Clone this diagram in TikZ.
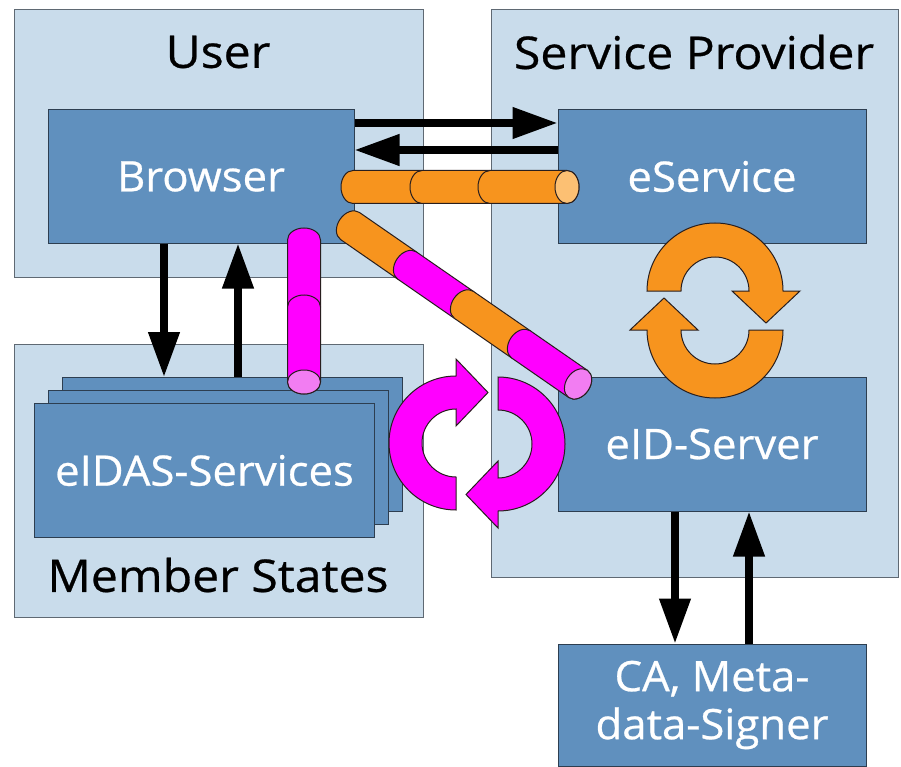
\documentclass[tikz,border=0pt]{standalone}
\usepackage{fontspec}
\setmainfont{Open Sans}
\newfontfamily\titlefont{Open Sans}[FakeStretch=1.07,FakeBold=0.6]
\newfontfamily\boxfont{Open Sans}[FakeStretch=1.04,FakeBold=0.6]
\usetikzlibrary{arrows.meta}
\definecolor{outerfill}{RGB}{201,220,235}
\definecolor{outerline}{RGB}{95,105,115}
\definecolor{innerfill}{RGB}{96,144,190}
\definecolor{innerline}{RGB}{45,62,80}
\definecolor{orng}{RGB}{247,148,30}
\definecolor{orngcap}{RGB}{252,192,115}
\definecolor{mgnt}{RGB}{255,0,255}
\definecolor{mgntcap}{RGB}{242,125,242}
\definecolor{cylline}{RGB}{40,30,30}
\newcommand\cylseg[3]{\filldraw[fill=#3, draw=cylline, line width=1pt] (#1,-16.5) arc[start angle=-90,end angle=-270,x radius=12pt,y radius=16.5pt] -- (#2,16.5) arc[start angle=90,end angle=-90,x radius=12pt,y radius=16.5pt] -- cycle;}
\newcommand\cylcap[2]{\filldraw[fill=#2, draw=cylline, line width=1pt] (#1,0) ellipse [x radius=12pt, y radius=16.5pt];}
\begin{document}
\begin{tikzpicture}[x=1pt,y=1pt,
  outerbox/.style={draw=outerline, fill=outerfill, line width=1pt, inner sep=0pt},
  innerbox/.style={draw=innerline, fill=innerfill, line width=1pt, text=white, font=\boxfont\fontsize{42}{48}\selectfont, align=center, inner sep=0pt},
  title/.style={font=\titlefont\fontsize{45}{50}\selectfont, text=black, inner sep=0pt},
  bigarrow/.style={line width=7.5pt, -{Triangle[length=45pt,width=30pt]}},
  circarrow/.style={draw=cylline, line width=1pt}]
\useasboundingbox[fill=white] (0,0) rectangle (901,-767);
% outer areas
\node[outerbox, minimum width=409pt, minimum height=267pt] (user) at (218.5,-143.5) {};
\node[outerbox, minimum width=407pt, minimum height=567pt] (sp) at (694.5,-293.5) {};
\node[outerbox, minimum width=409pt, minimum height=273pt] (ms) at (218.5,-480.5) {};
\node[title] (usertitle) at (218,-52) {User};
\node[title] (sptitle) at (694,-52) {Service Provider};
\node[title] (mstitle) at (218,-575) {Member States};
% inner boxes
\node[innerbox, minimum width=306pt, minimum height=133pt] (browser) at (201,-176.5) {Browser};
\node[innerbox, minimum width=308pt, minimum height=133pt] (eservice) at (712,-176.5) {eService};
\node[innerbox, minimum width=308pt, minimum height=134pt] (eid) at (712,-444) {eID-Server};
\node[innerbox, minimum width=308pt, minimum height=122pt] (ca) at (712,-705) {CA, Meta-\\data-Signer};
\node[innerbox, minimum width=340pt, minimum height=134pt] (eidasC) at (232,-444.5) {};
\node[innerbox, minimum width=340pt, minimum height=134pt] (eidasB) at (218,-457.5) {};
\node[innerbox, minimum width=340pt, minimum height=134pt] (eidasA) at (204.5,-470.5) {eIDAS-Services};
% arrows
\draw[bigarrow] ([yshift=53.5pt]browser.east) -- ([yshift=53.5pt]eservice.west);
\draw[bigarrow] ([yshift=26.5pt]eservice.west) -- ([yshift=26.5pt]browser.east);
\draw[bigarrow] ([xshift=-37pt]browser.south) -- ([xshift=-68pt]eidasC.north);
\draw[bigarrow] ([xshift=6pt]eidasC.north) -- ([xshift=37pt]browser.south);
\draw[bigarrow] ([xshift=-37pt]eid.south) -- ([xshift=-37pt]ca.north);
\draw[bigarrow] ([xshift=37pt]ca.north) -- ([xshift=37pt]eid.south);
% circular arrows
\filldraw[circarrow, fill=orng] (647,-291) arc[start angle=180,end angle=0,radius=68pt] -- (800,-291) -- (766,-323) -- (732,-291) -- (749,-291) arc[start angle=0,end angle=180,radius=34pt] -- cycle;
\filldraw[circarrow, fill=orng] (783,-330) arc[start angle=0,end angle=-180,radius=68pt] -- (630,-330) -- (664,-298) -- (698,-330) -- (681,-330) arc[start angle=180,end angle=360,radius=34pt] -- cycle;
\filldraw[circarrow, fill=mgnt] (456,-510) arc[start angle=-90,end angle=-270,radius=67pt] -- (456,-359) -- (488,-392.5) -- (456,-426) -- (456,-409) arc[start angle=90,end angle=270,radius=34pt] -- cycle;
\filldraw[circarrow, fill=mgnt] (498,-377) arc[start angle=90,end angle=-90,radius=67pt] -- (498,-528) -- (466,-494.5) -- (498,-461) -- (498,-478) arc[start angle=-90,end angle=90,radius=34pt] -- cycle;
% cylinders
\begin{scope}[shift={(353,-187)}]
\cylseg{0}{69}{orng}\cylseg{69}{137}{orng}\cylseg{137}{214}{orng}\cylcap{214}{orngcap}
\end{scope}
\begin{scope}[shift={(304,-240)}, rotate=-90]
\cylseg{0}{67}{mgnt}\cylseg{67}{142}{mgnt}\cylcap{142}{mgntcap}
\end{scope}
\begin{scope}[shift={(350,-226)}, rotate=-34.7]
\cylseg{0}{69.4}{orng}\cylseg{69.4}{138.7}{mgnt}\cylseg{138.7}{208}{orng}\cylseg{208}{277.4}{mgnt}\cylcap{277.4}{mgntcap}
\end{scope}
\end{tikzpicture}
\end{document}
